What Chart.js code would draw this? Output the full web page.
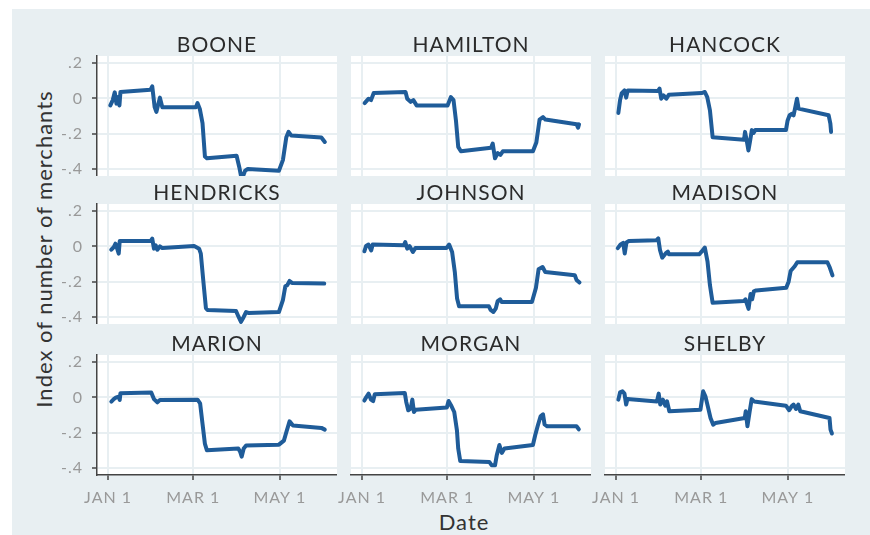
<!DOCTYPE html>
<html>
<head>
<meta charset="utf-8">
<script src="https://cdn.jsdelivr.net/npm/chart.js@4.4.0/dist/chart.umd.min.js"></script>
<style>
  html, body { margin: 0; padding: 0; background: #fff; }
  #frame { position: absolute; left: 12px; top: 9px; width: 858px; height: 526px; background: #e8eff2; }
  .panel { position: absolute; }
  .axis-title { position: absolute; font-family: Lato, "Open Sans", sans-serif; font-size: 22px; letter-spacing: 1px; color: #333; white-space: nowrap; transform: translate(-50%, -50%); }
  #ytitle { left: 43px; top: 249px; transform: translate(-50%, -50%) rotate(-90deg); }
  #xtitle { left: 464px; top: 521px; }
</style>
</head>
<body>
<div id="frame"></div>
<div id="ytitle" class="axis-title">Index of number of merchants</div>
<div id="xtitle" class="axis-title">Date</div>
<script>
// day of year (2020, Jan 1 = 0) and index value
const boone = [[1.6,-0.04],[3.3,-0.01],[4.7,0.034],[5.9,-0.03],[7.1,0.007],[8,-0.04],[8.7,0.036],[29.9,0.049],[31.1,0.068],[32.8,-0.05],[34,-0.077],[36.5,0.004],[38.2,-0.05],[61.8,-0.05],[63,-0.027],[64.6,-0.06],[66.5,-0.14],[68.2,-0.33],[69.6,-0.34],[90.5,-0.325],[92.4,-0.39],[94.1,-0.46],[96.5,-0.41],[98.4,-0.4],[120.3,-0.41],[123.1,-0.35],[125.5,-0.22],[127.1,-0.19],[129,-0.21],[150.2,-0.222],[152.6,-0.247]];
const hamilton = [[1.8,-0.027],[4.6,-0.002],[6.3,-0.01],[8.2,0.03],[30.6,0.036],[31.8,-0.002],[34.2,-0.02],[36.1,-0.01],[38.4,-0.04],[60.2,-0.04],[62.5,0.007],[64.4,-0.01],[66.1,-0.125],[67.7,-0.275],[69.6,-0.3],[90.8,-0.28],[92,-0.256],[93.6,-0.34],[95.5,-0.31],[97.4,-0.32],[99.1,-0.3],[120.3,-0.3],[122.7,-0.25],[125,-0.12],[127.4,-0.106],[129.1,-0.12],[151,-0.147],[152.1,-0.166],[152.8,-0.147]];
const hancock = [[1.6,-0.083],[2.8,-0.01],[4,0.03],[5.9,0.045],[7.1,0.004],[8.2,0.045],[29.4,0.041],[30.6,0.055],[31.8,-0.002],[33.4,0.017],[35.4,-0.002],[37.2,0.021],[60.2,0.03],[62.5,0.036],[64.2,0.007],[66.1,-0.068],[68,-0.22],[90.1,-0.234],[90.8,-0.19],[92,-0.24],[93.2,-0.295],[94.4,-0.24],[95.6,-0.18],[96.8,-0.196],[98,-0.18],[119.6,-0.18],[120.8,-0.125],[122.2,-0.096],[123.9,-0.087],[125,-0.096],[126.2,-0.05],[127.4,-0.002],[128.5,-0.058],[149.7,-0.096],[150.9,-0.143],[151.4,-0.19]];
const hendricks = [[2.3,-0.019],[4,-0.004],[5.2,0.015],[6.4,-0.013],[7.5,-0.041],[8.2,0.03],[29.9,0.03],[31.1,0.044],[32.3,-0.013],[33.5,0.006],[34.7,-0.019],[36.5,0],[38.2,-0.01],[60.6,0.002],[64.1,-0.013],[65.3,-0.041],[67,-0.19],[68.9,-0.35],[70,-0.36],[90.1,-0.366],[91.7,-0.396],[93.6,-0.428],[95.5,-0.4],[97.2,-0.372],[98.8,-0.377],[120.3,-0.372],[123.1,-0.305],[124.8,-0.226],[126.2,-0.22],[127.8,-0.196],[129.5,-0.207],[152.2,-0.211]];
const johnson = [[1.6,-0.028],[2.8,0.002],[4.5,0.01],[6.4,-0.023],[7.5,0.01],[29.4,0.006],[30.4,0.024],[31.8,-0.013],[33.4,0.002],[35.8,-0.032],[37.5,-0.01],[59.4,-0.01],[61.3,0.01],[63.4,-0.032],[65.3,-0.145],[66.9,-0.296],[68.3,-0.34],[89.3,-0.34],[90.5,-0.36],[92.4,-0.372],[94.1,-0.353],[95.5,-0.31],[97.2,-0.3],[98.3,-0.315],[119.6,-0.315],[122.4,-0.236],[124.3,-0.13],[127.1,-0.117],[129,-0.145],[149.8,-0.164],[151,-0.19],[153.1,-0.205]];
const madison = [[1.2,-0.01],[3,0.009],[5,0.02],[6.1,-0.04],[7.3,0.022],[9,0.03],[28.5,0.035],[29.7,0.045],[30.9,-0.02],[32.5,-0.064],[34.9,-0.04],[36.5,-0.03],[37.2,-0.045],[58.5,-0.045],[60.2,-0.03],[62.5,-0.007],[64.4,-0.087],[66.1,-0.22],[68,-0.32],[89.9,-0.31],[91.1,-0.3],[92.3,-0.33],[93.3,-0.354],[94.7,-0.27],[95.8,-0.3],[97,-0.255],[98.6,-0.25],[119.8,-0.235],[121.5,-0.2],[122.9,-0.14],[125.8,-0.113],[127.6,-0.09],[148.8,-0.09],[150.5,-0.12],[152.4,-0.165]];
const marion = [[2.3,-0.024],[4,-0.01],[5.7,0],[7.5,0.004],[8.2,-0.015],[8.7,0.023],[30.4,0.028],[32.3,-0.01],[34.7,-0.028],[36.5,-0.015],[63,-0.013],[64.8,-0.034],[66.5,-0.15],[68.2,-0.264],[69.6,-0.3],[91.7,-0.29],[93.1,-0.31],[94.1,-0.336],[95.5,-0.29],[97.2,-0.273],[120.3,-0.268],[123.8,-0.245],[125.5,-0.198],[127.8,-0.136],[130.2,-0.16],[150.2,-0.173],[152.6,-0.183]];
const morgan = [[1.6,-0.018],[3,0.002],[4.6,0.021],[6.3,-0.013],[7.8,-0.021],[8.9,0.017],[30.1,0.024],[31.1,-0.026],[32.5,-0.073],[34.2,-0.064],[35.4,-0.013],[36.5,-0.083],[37.7,-0.07],[59.7,-0.058],[60.9,-0.021],[63,-0.051],[64.9,-0.083],[66.8,-0.187],[67.7,-0.29],[69.1,-0.36],[89.6,-0.366],[91.3,-0.385],[93.6,-0.385],[94.8,-0.33],[96.7,-0.27],[98.4,-0.315],[100.3,-0.29],[120.3,-0.27],[121.9,-0.215],[123.8,-0.158],[125.7,-0.107],[127.4,-0.096],[128.5,-0.153],[130.4,-0.164],[151,-0.164],[152.6,-0.181]];
const shelby = [[1.6,-0.013],[2.8,0.028],[4.5,0.034],[5.9,0.021],[7.1,-0.041],[8,-0.01],[28.8,-0.023],[30,0.021],[31.1,-0.041],[33,-0.013],[34.7,-0.047],[35.9,-0.023],[37.5,-0.079],[59.4,-0.07],[61.3,0.034],[62.9,0.006],[64.6,-0.051],[66.5,-0.117],[68.4,-0.155],[70,-0.145],[90.6,-0.117],[91.3,-0.079],[92.5,-0.164],[94.1,-0.079],[95.5,-0.01],[97.2,-0.023],[119.6,-0.047],[121.9,-0.073],[123.6,-0.051],[125,-0.041],[126.7,-0.066],[128.3,-0.041],[129.7,-0.079],[150.3,-0.117],[151,-0.183],[152,-0.205]];

const counties = ['BOONE', 'HAMILTON', 'HANCOCK', 'HENDRICKS', 'JOHNSON', 'MADISON', 'MARION', 'MORGAN', 'SHELBY'];
const series = [boone, hamilton, hancock, hendricks, johnson, madison, marion, morgan, shelby];

const xTicks = [0, 60, 121];
const xLabels = ['JAN 1', 'MAR 1', 'MAY 1'];
const yTicks = [-0.4, -0.2, 0, 0.2];
const yLabels = ['-.4', '-.2', '0', '.2'];

const FONT = 'Lato, "Open Sans", sans-serif';
const LINE = '#1f5c99';
const GRID = '#e8eff2';
const AXIS = '#444';
const TICK = '#999';

// panel geometry (pixels)
const PLOT_LEFT = [97, 351, 605];
const PLOT_TOP = [55, 203, 354];
const PLOT_W = 240, PLOT_H = 121, TITLE_H = 20;

// white plot area + a bit of letter spacing for the wide reference font
const plotBackground = {
  id: 'plotBackground',
  beforeDraw(chart) {
    const { ctx, chartArea: a } = chart;
    ctx.save();
    ctx.fillStyle = '#fff';
    ctx.fillRect(a.left, a.top, a.right - a.left, a.bottom - a.top);
    ctx.restore();
    ctx.letterSpacing = '1px';
  }
};

counties.forEach((name, i) => {
  const row = Math.floor(i / 3), col = i % 3;
  const yw = col === 0 ? 85 : 20;
  const xh = row === 2 ? 40 : 0;

  const box = document.createElement('div');
  box.className = 'panel';
  box.style.left = (PLOT_LEFT[col] - yw) + 'px';
  box.style.top = (PLOT_TOP[row] - TITLE_H) + 'px';
  box.style.width = (yw + PLOT_W) + 'px';
  box.style.height = (TITLE_H + PLOT_H + xh) + 'px';
  const canvas = document.createElement('canvas');
  box.appendChild(canvas);
  document.body.appendChild(box);

  new Chart(canvas, {
    type: 'line',
    data: {
      datasets: [{
        data: series[i].map(([x, y]) => ({ x, y })),
        borderColor: LINE,
        borderWidth: 4,
        pointRadius: 0,
        tension: 0,
        borderJoinStyle: 'round',
        borderCapStyle: 'round',
        clip: false,
      }],
    },
    options: {
      responsive: true,
      maintainAspectRatio: false,
      animation: false,
      layout: { padding: 0 },
      plugins: {
        legend: { display: false },
        tooltip: { enabled: false },
        title: {
          display: true,
          text: name,
          fullSize: false,
          color: '#2b2b2b',
          padding: 0,
          font: { family: FONT, size: 21, weight: 'normal', lineHeight: 1 },
        },
      },
      scales: {
        x: {
          type: 'linear',
          min: -7.8,
          max: 161.2,
          afterBuildTicks: (s) => { s.ticks = xTicks.map(v => ({ value: v })); },
          afterFit: (s) => { s.height = xh; s.paddingLeft = 0; s.paddingRight = 0; },
          ticks: {
            display: row === 2,
            autoSkip: false,
            maxRotation: 0,
            padding: 8,
            color: TICK,
            font: { family: FONT, size: 16 },
            callback: (v, idx) => xLabels[idx],
          },
          grid: { color: GRID, lineWidth: 2, drawTicks: row === 2, tickLength: 5, tickColor: AXIS, tickWidth: 1.5 },
          border: { display: row === 2, color: AXIS, width: 1.5 },
        },
        y: {
          min: -0.44,
          max: 0.24,
          afterBuildTicks: (s) => { s.ticks = yTicks.map(v => ({ value: v })); },
          afterFit: (s) => { s.width = yw; s.paddingTop = 0; s.paddingBottom = 0; },
          ticks: {
            display: col === 0,
            padding: 9,
            color: TICK,
            font: { family: FONT, size: 16 },
            callback: (v, idx) => yLabels[idx],
          },
          grid: { color: GRID, lineWidth: 2, drawTicks: col === 0, tickLength: 5, tickColor: AXIS, tickWidth: 1.5 },
          border: { display: col === 0, color: AXIS, width: 1.5 },
        },
      },
    },
    plugins: [plotBackground],
  });
});
</script>
</body>
</html>
